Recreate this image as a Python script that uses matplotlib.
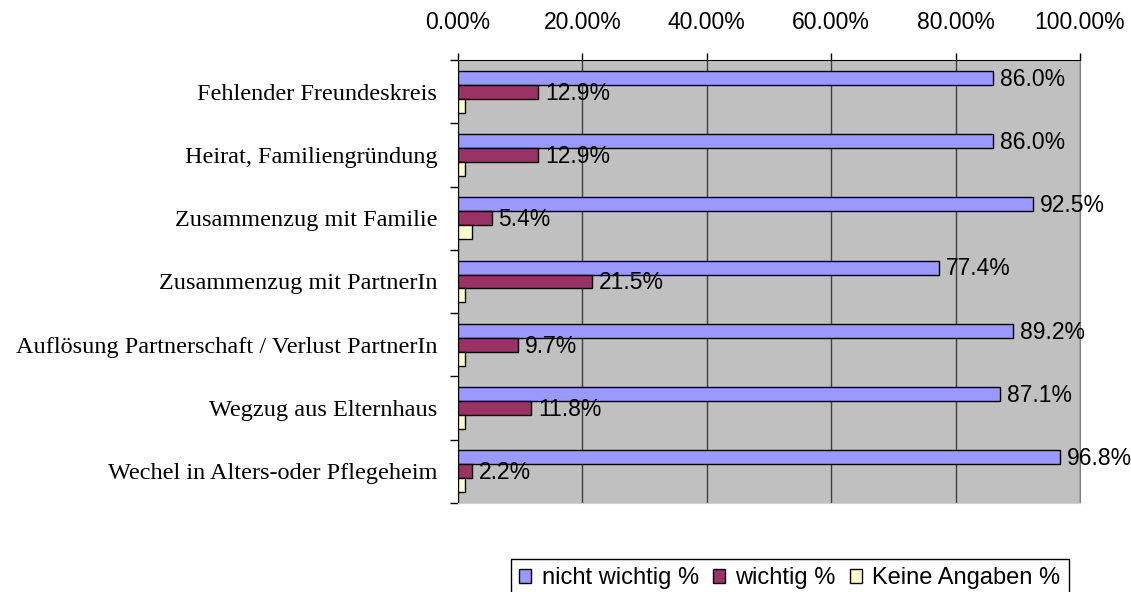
import matplotlib.pyplot as plt
import numpy as np
from matplotlib.ticker import FuncFormatter

categories = ["Fehlender Freundeskreis", "Heirat, Familiengründung",
              "Zusammenzug mit Familie", "Zusammenzug mit PartnerIn",
              "Auflösung Partnerschaft / Verlust PartnerIn",
              "Wegzug aus Elternhaus", "Wechel in Alters-oder Pflegeheim"]
nicht_wichtig = [86.0, 86.0, 92.5, 77.4, 89.2, 87.1, 96.8]
wichtig = [12.9, 12.9, 5.4, 21.5, 9.7, 11.8, 2.2]
keine_angaben = [1.1, 1.1, 2.2, 1.1, 1.1, 1.1, 1.1]
series_names = ["nicht wichtig %", "wichtig %", "Keine Angaben %"]
colors = ["#9999FF", "#993366", "#FFFFCC"]

fig = plt.figure(figsize=(11.31, 5.92), dpi=100)
ax = fig.add_axes([458/1131, 1-503/592, (1080-458)/1131, (503-60)/592])
ax.set_facecolor("#C0C0C0")

y = np.arange(len(categories))
h = 0.22
for k, (vals, c, name) in enumerate(zip([nicht_wichtig, wichtig, keine_angaben], colors, series_names)):
    ax.barh(y + (k-1)*h, vals, height=h, color=c, edgecolor="black",
            linewidth=1, label=name, zorder=3)
    if k < 2:
        for yi, v in zip(y + (k-1)*h, vals):
            ax.annotate(f"{v:.1f}%", (v, yi), xytext=(5, -1), textcoords="offset points",
                        va="center", ha="left", fontsize=16.5, family="Liberation Sans",
                        zorder=5, annotation_clip=False)

ax.set_xlim(0, 100)
ax.set_ylim(len(categories)-0.5, -0.5)
ax.xaxis.tick_top()
ax.set_xticks(np.arange(0, 101, 20))
ax.xaxis.set_major_formatter(FuncFormatter(lambda v, p: f"{v:.2f}%"))
ax.tick_params(axis="x", direction="out", length=5, width=1, pad=14, labelsize=16.5)
for t in ax.get_xticklabels():
    t.set_family("Liberation Sans")
ax.grid(axis="x", color="#404040", linewidth=1, zorder=1)

ax.set_yticks(np.arange(-0.5, len(categories)), labels=[""]*(len(categories)+1))
ax.tick_params(axis="y", which="major", direction="out", length=6, width=1)
ax.set_yticks(y, minor=True)
ax.set_yticklabels(categories, minor=True, family="Liberation Serif", fontsize=17.5)
ax.tick_params(axis="y", which="minor", length=0, pad=15)

for s in ["left", "top"]:
    ax.spines[s].set_color("black")
ax.spines["right"].set_color("#808080")
ax.spines["bottom"].set_color("#D0D0D0")

fig.legend(loc="upper center", bbox_to_anchor=(790/1131, 1-559/592), ncol=3,
           fancybox=False, edgecolor="black", framealpha=1, borderaxespad=0,
           borderpad=0.35, handlelength=0.5, handleheight=0.5, handletextpad=0.45,
           columnspacing=0.6, prop={"family": "Liberation Sans", "size": 17})

fig.savefig("out.png", dpi=100)
